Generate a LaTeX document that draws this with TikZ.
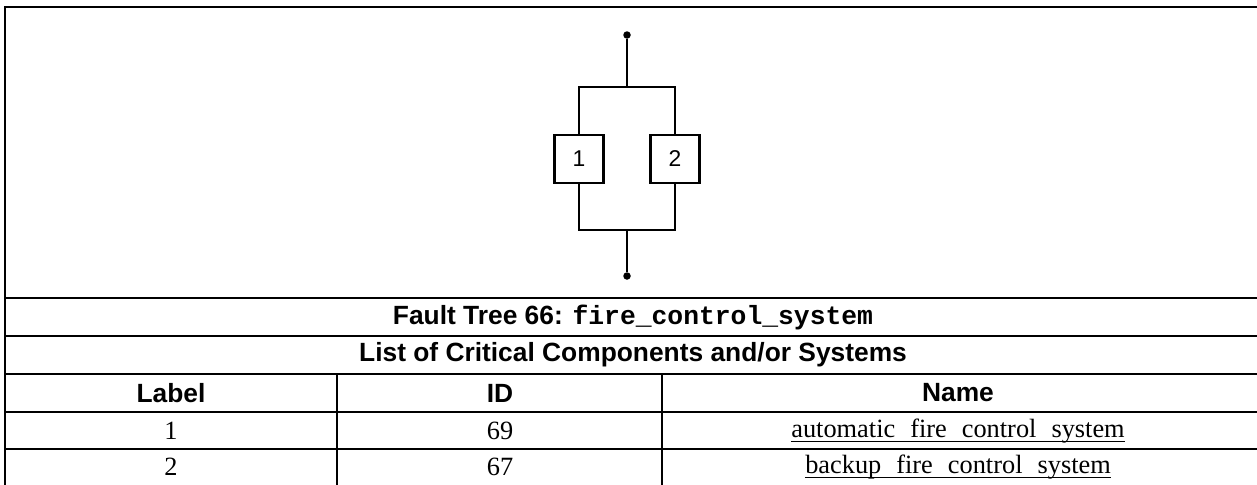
\documentclass[tikz,border=0pt]{standalone}
\usepackage{fontspec}
\setmainfont{Liberation Serif}
\setsansfont{Liberation Sans}
\setmonofont{Liberation Mono}
\usetikzlibrary{positioning}
\newcommand{\gap}{\hspace{0.3cm}}
\tikzset{
  blk/.style={draw, line width=1.2pt, minimum width=0.98cm, minimum height=0.96cm,
              inner sep=0pt, font=\sffamily\fontsize{13}{15}\selectfont},
  wire/.style={line width=1.2pt},
  pin/.style={circle, fill, inner sep=0pt, minimum size=0.15cm},
  rule/.style={line width=1.3pt},
  hcell/.style={font=\sffamily\bfseries\fontsize{15}{17}\selectfont},
  bcell/.style={font=\fontsize{15}{17}\selectfont},
  ncell/.style={bcell, inner xsep=0pt},
  uline/.style={line width=0.7pt},
}

\begin{document}
\begin{tikzpicture}[x=0.02cm, y=-0.02cm]
\useasboundingbox (0,0) rectangle (1257,484);
% Parallel block diagram
\node[pin] (top) at (627,35) {};
\node[blk] (b1) at (579,159) {1};
\node[blk] (b2) at (675,159) {2};
\node[pin] (bot) at (627,276) {};
\coordinate (tj) at (627,87);
\coordinate (bj) at (627,230);
\draw[wire] (top) -- (tj);
\draw[wire] (b1.north) |- (tj) -| (b2.north);
\draw[wire] (b1.south) |- (bj) -| (b2.south);
\draw[wire] (bj) -- (bot);

% Table frame and rules
\draw[rule] (5,7) rectangle (1262,487);
\foreach \y in {298,336,374,412,449}
  \draw[rule] (5,\y) -- (1262,\y);
\draw[rule] (337,374) -- (337,487);
\draw[rule] (662,374) -- (662,487);

% Table text
\node[hcell] (title) at (633,317) {Fault Tree 66: {\ttfamily fire\_control\_system}};
\node[hcell] (list) at (633,355) {List of Critical Components and/or Systems};
\node[hcell] (hlabel) at (171,393) {Label};
\node[hcell] (hid) at (500,393) {ID};
\node[hcell] (hname) at (958,393) {Name};
\node[bcell] (l1) at (171,431) {1};
\node[bcell] (i1) at (500,431) {69};
\node[ncell] (n1) at (958,431) {automatic\gap fire\gap control\gap system};
\node[bcell] (l2) at (171,467) {2};
\node[bcell] (i2) at (500,467) {67};
\node[ncell] (n2) at (958,467) {backup\gap fire\gap control\gap system};
\draw[uline] ([yshift=-2.5pt]n1.base west) -- ([yshift=-2.5pt]n1.base east);
\draw[uline] ([yshift=-2.5pt]n2.base west) -- ([yshift=-2.5pt]n2.base east);
\end{tikzpicture}
\end{document}
